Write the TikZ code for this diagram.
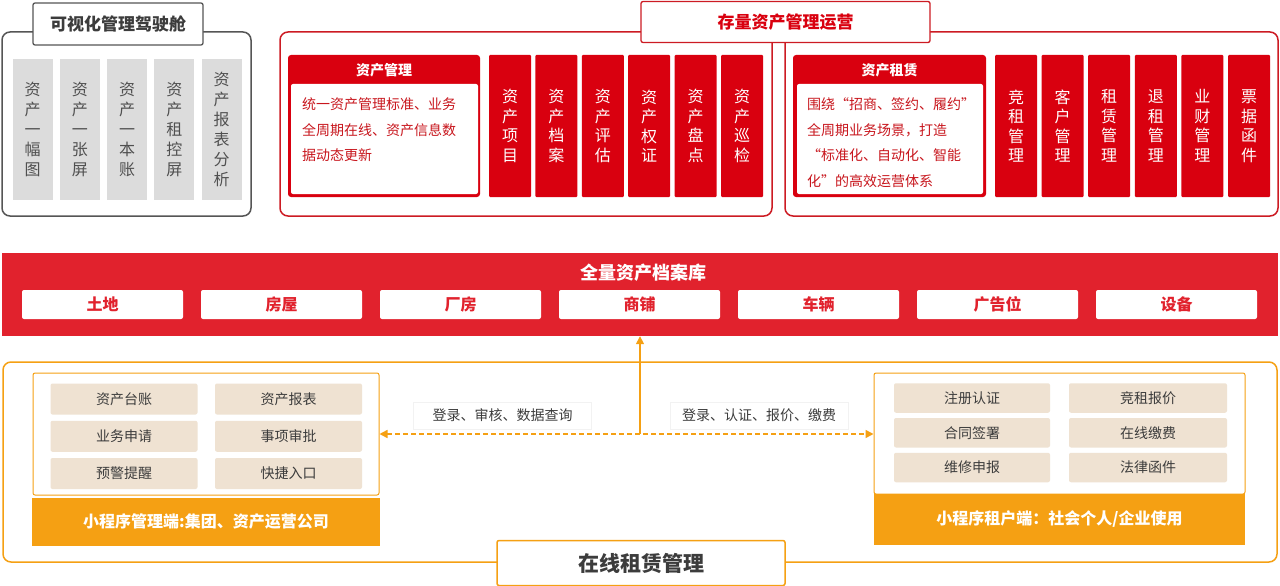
\documentclass[tikz,border=0pt]{standalone}
\usepackage{fontspec}
\setmainfont{Noto Sans CJK SC}
\usetikzlibrary{arrows.meta, positioning}

\definecolor{colred}{HTML}{D9000F}
\definecolor{boxred}{HTML}{CC1B23}
\definecolor{bandred}{HTML}{E1222D}
\definecolor{txtred}{HTML}{C8161D}
\definecolor{orng}{HTML}{F5A013}
\definecolor{beige}{HTML}{EFE2D2}
\definecolor{colgray}{HTML}{DCDCDC}
\definecolor{linegray}{HTML}{555555}
\definecolor{txtgray}{HTML}{505050}
\definecolor{txtdark}{HTML}{3C3C3C}

\begin{document}
\begin{tikzpicture}[x=1pt, y=-1pt,
  graycol/.style={fill=colgray, minimum width=40, minimum height=141, inner sep=0, text=txtgray, align=center, font=\fontsize{16}{20}\selectfont},
  redcol/.style={fill=colred, rounded corners=1, minimum width=42, minimum height=142, inner sep=0, text=white, align=center, font=\fontsize{16}{19.5}\selectfont},
  titlebox/.style={fill=white, line width=1.3, rounded corners=2, inner sep=0, font=\fontsize{17}{17}\selectfont\bfseries},
  hdtext/.style={text=white, inner sep=0, font=\fontsize{14}{14}\selectfont\bfseries},
  bodytext/.style={text=txtred, inner sep=0, align=left, anchor=north west, font=\fontsize{14}{25.5}\selectfont},
  unitbox/.style={fill=white, rounded corners=2, minimum width=161, minimum height=29, inner sep=0, text=bandred, font=\fontsize{16}{16}\selectfont\bfseries},
  funcbox/.style={fill=beige, rounded corners=2, inner sep=0, text=txtdark, font=\fontsize{14}{14}\selectfont},
  barbox/.style={fill=orng, inner sep=0, text=white, font=\fontsize{16}{16}\selectfont\bfseries},
  lblbox/.style={fill=white, draw=black!5, line width=0.5, minimum width=178, minimum height=27, inner sep=0, text=txtdark, font=\fontsize{14}{14}\selectfont}
]
  \useasboundingbox (0,0) rectangle (1280,586);

  % 可视化管理驾驶舱
  \draw[linegray, line width=1.5, rounded corners=8] (2,32) rectangle (251,216);
  \node[titlebox, draw=linegray, minimum width=170, minimum height=42, text=txtdark] (vtitle) at (118,24) {可视化管理驾驶舱};
  \foreach \i/\txt in {1/{资\\产\\一\\幅\\图}, 2/{资\\产\\一\\张\\屏}, 3/{资\\产\\一\\本\\账}, 4/{资\\产\\租\\控\\屏}, 5/{资\\产\\报\\表\\分\\析}}
    \node[graycol] (vc\i) at ({32.5+(\i-1)*47.25},129.5) {\txt};

  % 存量资产管理运营
  \draw[boxred, line width=1.5, rounded corners=8] (280,32) rectangle (772,216);
  \draw[boxred, line width=1.5, rounded corners=8] (785,32) rectangle (1278,216);
  \node[titlebox, draw=boxred, minimum width=289, minimum height=41, text=colred] (stitle) at (785.5,22) {存量资产管理运营};

  % 资产管理
  \node[fill=colred, rounded corners=3, minimum width=192, minimum height=142, inner sep=0] (mgmt) at (384,126) {};
  \node[hdtext] (mgmthd) at (384,70) {资产管理};
  \node[fill=white, rounded corners=2, minimum width=187, minimum height=110, inner sep=0] (mgmtbody) at (384.5,139) {};
  \node[bodytext] (mgmttxt) at (302,97.5) {统一资产管理标准、业务\\全周期在线、资产信息数\\据动态更新};
  \foreach \i/\txt in {1/{资\\产\\项\\目}, 2/{资\\产\\档\\案}, 3/{资\\产\\评\\估}, 4/{资\\产\\权\\证}, 5/{资\\产\\盘\\点}, 6/{资\\产\\巡\\检}}
    \node[redcol] (ac\i) at ({510+(\i-1)*46.4},126) {\txt};

  % 资产租赁
  \node[fill=colred, rounded corners=3, minimum width=193, minimum height=142, inner sep=0] (lease) at (889.5,126) {};
  \node[hdtext] (leasehd) at (889.5,70) {资产租赁};
  \node[fill=white, rounded corners=2, minimum width=186, minimum height=110, inner sep=0] (leasebody) at (890,139) {};
  \node[bodytext] (leasetxt) at (807,97.5) {围绕“招商、签约、履约”\\全周期业务场景，打造\\“标准化、自动化、智能\\化”的高效运营体系};
  \foreach \i/\txt in {1/{竞\\租\\管\\理}, 2/{客\\户\\管\\理}, 3/{租\\赁\\管\\理}, 4/{退\\租\\管\\理}, 5/{业\\财\\管\\理}, 6/{票\\据\\函\\件}}
    \node[redcol] (lc\i) at ({1016+(\i-1)*46.6},126) {\txt};

  % 全量资产档案库
  \node[fill=bandred, minimum width=1276, minimum height=83, inner sep=0] (band) at (640,294.5) {};
  \node[text=white, font=\fontsize{18}{18}\selectfont\bfseries] (bandtitle) at (643,272.5) {全量资产档案库};
  \foreach \txt [count=\i] in {土地, 房屋, 厂房, 商铺, 车辆, 广告位, 设备}
    \node[unitbox] (unit\i) at ({102.5+(\i-1)*179},304.5) {\txt};

  % 在线租赁管理
  \draw[orng, line width=1.5, rounded corners=8] (3,362) rectangle (1277,562);
  \node[fill=white, draw=orng, line width=1.5, rounded corners=2, minimum width=288, minimum height=45, inner sep=0, text=txtdark, font=\fontsize{21}{21}\selectfont\bfseries] (otitle) at (641,563) {在线租赁管理};

  % 管理端
  \node[draw=orng, line width=1, fill=white, rounded corners=2, minimum width=346, minimum height=122, inner sep=0] (mpanel) at (206,434) {};
  \node[barbox, minimum width=348, minimum height=48] (mbar) at (206,521.5) {小程序管理端:集团、资产运营公司};
  \foreach \a/\b [count=\r] in {资产台账/资产报表, 业务申请/事项审批, 预警提醒/快捷入口} {
    \node[funcbox, minimum width=147, minimum height=31] (mfa\r) at (124,{399+(\r-1)*37.25}) {\a};
    \node[funcbox, minimum width=147, minimum height=31] (mfb\r) at (288.5,{399+(\r-1)*37.25}) {\b};
  }

  % 租户端
  \node[draw=orng, line width=1, fill=white, rounded corners=2, minimum width=371, minimum height=121, inner sep=0] (tpanel) at (1059.5,433.5) {};
  \node[barbox, minimum width=371, minimum height=51] (tbar) at (1059.5,519.5) {小程序租户端：社会个人/企业使用};
  \foreach \a/\b [count=\r] in {注册认证/竞租报价, 合同签署/在线缴费, 维修申报/法律函件} {
    \node[funcbox, minimum width=156, minimum height=29.5] (tfa\r) at (972,{398+(\r-1)*34.75}) {\a};
    \node[funcbox, minimum width=158, minimum height=29.5] (tfb\r) at (1148,{398+(\r-1)*34.75}) {\b};
  }

  % 连接
  \node[lblbox] (mlbl) at (502.5,415.5) {登录、审核、数据查询};
  \node[lblbox] (tlbl) at (759,415.5) {登录、认证、报价、缴费};
  \draw[orng, line width=1.5, dash pattern=on 5pt off 3pt, {Triangle[width=8pt,length=8pt]}-{Triangle[width=8pt,length=8pt]}] (mpanel.east) -- (mpanel.east -| tpanel.west);
  \draw[orng, line width=1.5, -{Triangle[width=8pt,length=8pt]}] (band.south |- mpanel.east) -- (band.south);
\end{tikzpicture}
\end{document}
